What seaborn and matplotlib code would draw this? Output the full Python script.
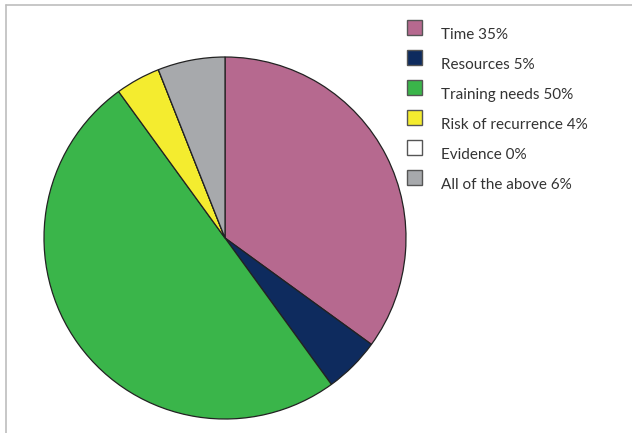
import matplotlib
matplotlib.use("Agg")
import matplotlib.pyplot as plt
import seaborn as sns
from matplotlib.patches import Rectangle
from matplotlib.lines import Line2D

categories = ["Time", "Resources", "Training needs", "Risk of recurrence", "Evidence", "All of the above"]
values = [35, 5, 50, 4, 0, 6]
colors = ["#B6698F", "#0E2B5E", "#3AB54A", "#F4EC2F", "#FFFFFF", "#A7A9AC"]
labels = [f"{c} {v}%" for c, v in zip(categories, values)]

sns.set_theme(style="white")
plt.rcParams["font.family"] = ["Lato", "DejaVu Sans"]

W, H = 632, 433
fig = plt.figure(figsize=(W / 100, H / 100), dpi=100)

# pie axes: center (225,238) px, radius 181 px
cx, cy, r = 225, 238, 181
ax = fig.add_axes([(cx - r) / W, (H - cy - r) / H, 2 * r / W, 2 * r / H])
ax.pie(values, colors=colors, startangle=90, counterclock=False,
       wedgeprops=dict(edgecolor="#222222", linewidth=0.9))
ax.set_xlim(-1, 1)
ax.set_ylim(-1, 1)
ax.set_aspect("equal")
ax.axis("off")

# frame lines (top and left only)
fig.add_artist(Line2D([6 / W, 1], [1 - 5 / H, 1 - 5 / H], transform=fig.transFigure,
                      color="#BDBDBD", linewidth=1.2))
fig.add_artist(Line2D([6 / W, 6 / W], [0, 1 - 5 / H], transform=fig.transFigure,
                      color="#BDBDBD", linewidth=1.2))

# legend
for i, (lab, col) in enumerate(zip(labels, colors)):
    top = 20 + 30 * i
    fig.add_artist(Rectangle((407 / W, 1 - (top + 15) / H), 15 / W, 15 / H,
                             transform=fig.transFigure, facecolor=col,
                             edgecolor="#555555", linewidth=1.0))
    fig.text(441 / W, 1 - (top + 15) / H, lab, fontsize=11, color="#333333",
             ha="left", va="center")

fig.savefig("out.png", dpi=100)
